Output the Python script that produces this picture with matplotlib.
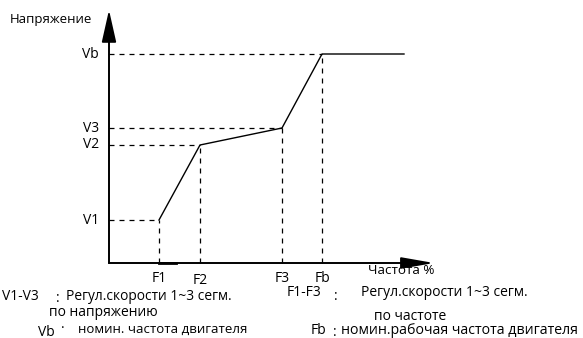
import matplotlib
matplotlib.use('Agg')
import matplotlib.pyplot as plt

plt.rcParams['font.family'] = ['Open Sans', 'DejaVu Sans']

# chart values (arbitrary units, origin at the axis crossing)
freq_labels = ['F1', 'F2', 'F3', 'Fb']
freq_values = [50, 91, 173, 213]
volt_labels = ['V1', 'V2', 'V3', 'Vb']
volt_values = [43, 118, 135, 209]
freq_end = 295

W, H = 583, 338
x0, y0 = 109, 263  # pixel position of the origin

fig = plt.figure(figsize=(W / 100, H / 100), dpi=100)
ax = fig.add_axes([0, 0, 1, 1])
ax.set_xlim(-x0, W - x0)
ax.set_ylim(-(H - y0), y0)
ax.axis('off')

axis_col = '#404040'

# axes with arrows
ax.annotate('', xy=(0, y0 - 10), xytext=(0, 0),
            arrowprops=dict(arrowstyle='-|>,head_length=2.0,head_width=0.45',
                            color='black', lw=1.3, shrinkA=0, shrinkB=0))
ax.annotate('', xy=(434 - x0, 0), xytext=(0, 0),
            arrowprops=dict(arrowstyle='-|>,head_length=2.0,head_width=0.35',
                            color='black', lw=1.3, shrinkA=0, shrinkB=0))
ax.plot([0, 0], [0, y0 - 40], color=axis_col, lw=1.3)
ax.plot([0, 300], [0, 0], color=axis_col, lw=1.3)
ax.plot([freq_values[0], freq_values[0] + 17], [0, 0], color='black', lw=2)

# curve
xs = freq_values + [freq_end]
ys = volt_values + [volt_values[-1]]
ax.plot(xs, ys, color='black', lw=1.0)

# dashed guides
for f, v in zip(freq_values, volt_values):
    ax.plot([0, f], [v, v], color='black', lw=0.9, ls=(0, (4, 4)))
    ax.plot([f, f], [0, v], color='black', lw=0.9, ls=(0, (4, 4)))

# tick labels
for lab, v in zip(volt_labels, volt_values):
    ax.text(-10, v, lab, ha='right', va='center', fontsize=10)
for lab, f in zip(freq_labels, freq_values):
    dy = 2 if lab == 'F2' else 0
    ax.text(f, -16 - dy, lab, ha='center', va='center', fontsize=10)

ax.text(10 - x0, y0 - 19, 'Напряжение', ha='left', va='center', fontsize=9.5)
ax.text(368 - x0, y0 - 270, 'Частота %', ha='left', va='center', fontsize=9.7)


# legend notes (pixel positions)
def note(px, py, s, fs=10):
    ax.text(px - x0, y0 - py, s, ha='left', va='center', fontsize=fs)


note(2, 297, 'V1-V3')
note(56, 299, ':')
note(66, 297, 'Регул.скорости 1~3 сегм.', 9.9)
note(49, 313, 'по напряжению')
note(38, 332, 'Vb')
note(61, 329, '·')
note(78, 329, 'номин. частота двигателя', 9.5)

note(287, 293, 'F1-F3')
note(334, 297, ':')
note(361, 292, 'Регул.скорости 1~3 сегм.')
note(374, 316, 'по частоте')
note(311, 331, 'Fb')
note(333, 332, ':')
note(341, 330, 'номин.рабочая частота двигателя', 10.2)

fig.savefig('out.png', dpi=100)
